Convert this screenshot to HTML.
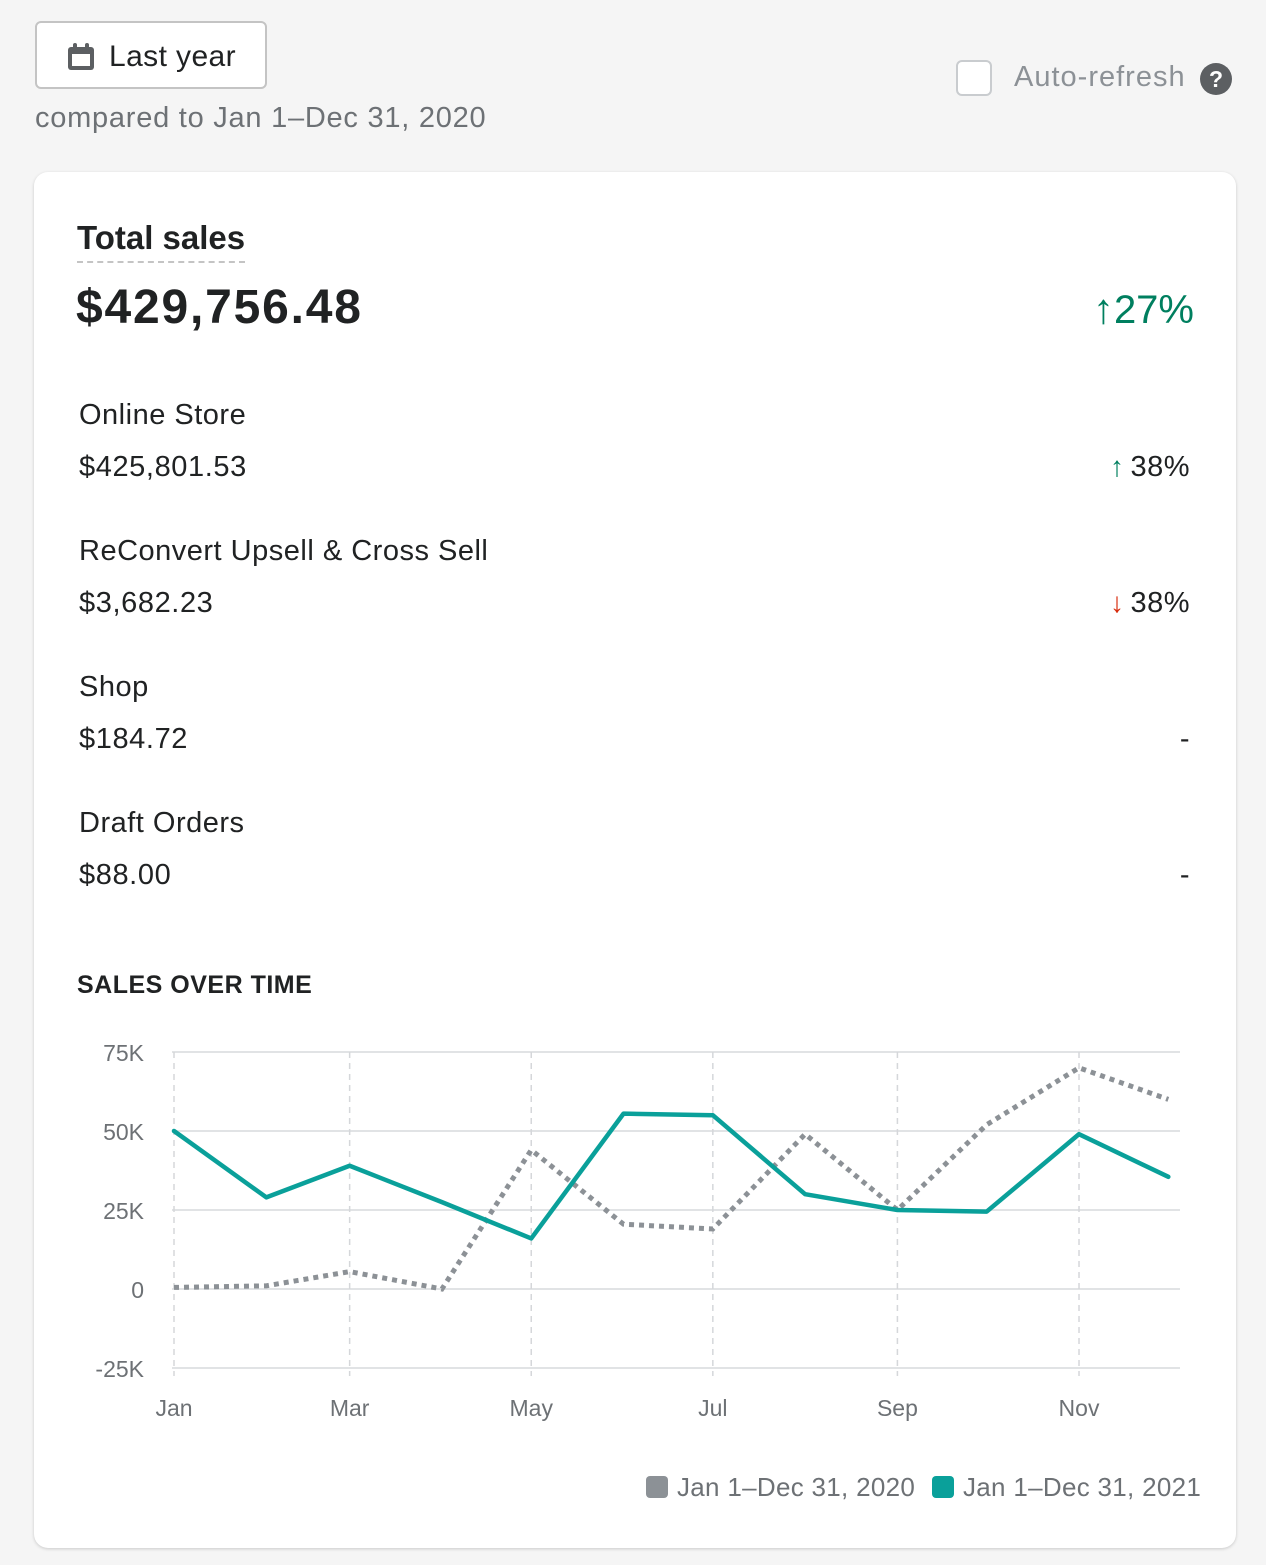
<!DOCTYPE html>
<html><head><meta charset="utf-8"><style>
body{margin:0;width:1266px;height:1565px;background:#f5f5f5;font-family:"Liberation Sans",sans-serif;position:relative;overflow:hidden;color:#202223}
.abs{position:absolute}
.btn{left:35px;top:21px;width:232px;height:68px;border:2px solid #c4c4c4;border-radius:6px;background:#fff;box-sizing:border-box}
.card{left:34px;top:172px;width:1202px;height:1376px;background:#fff;border-radius:14px;box-shadow:0 1px 3px rgba(0,0,0,.18)}
.lbl{font-size:29px;color:#202223;letter-spacing:0.5px}
.val{font-size:29px;color:#202223;letter-spacing:0.6px}
.pct{font-size:29px;right:76px;letter-spacing:0.5px}
.arr{font-size:28px;margin-right:6px}
</style></head><body>
<div class="abs btn">
 <svg class="abs" style="left:30px;top:19px" width="28" height="30"><rect x="1" y="5" width="26" height="23" rx="3" fill="#5c5f62"/><rect x="5" y="12" width="18" height="12" fill="#fff"/><rect x="6" y="1" width="4" height="7" rx="2" fill="#5c5f62"/><rect x="18" y="1" width="4" height="7" rx="2" fill="#5c5f62"/></svg>
 <div class="abs" style="left:72px;top:17px;font-size:30px;letter-spacing:0.4px">Last year</div>
</div>
<div class="abs" style="left:35px;top:102px;font-size:29px;color:#6d7175;letter-spacing:0.75px">compared to Jan 1–Dec 31, 2020</div>
<div class="abs" style="left:956px;top:60px;width:36px;height:36px;border:2px solid #c9cccf;border-radius:6px;box-sizing:border-box;background:#fff"></div>
<div class="abs" style="left:1014px;top:61px;font-size:29px;color:#8c9196;letter-spacing:1px">Auto-refresh</div>
<div class="abs" style="left:1200px;top:63px;width:32px;height:32px;border-radius:50%;background:#5c5f62;color:#fff;font-size:23px;font-weight:bold;text-align:center;line-height:32px">?</div>

<div class="abs card"></div>
<div class="abs" style="left:77px;top:219px;font-size:33px;font-weight:bold;border-bottom:2px dashed #c4c4c4;padding-bottom:4px">Total sales</div>
<div class="abs" style="left:76px;top:280px;font-size:48px;font-weight:bold;letter-spacing:1.8px">$429,756.48</div>
<div class="abs" style="right:72px;top:285px;font-size:40px;color:#007f5f"><span style="font-weight:bold;font-size:42px">↑</span>27%</div>

<div class="abs lbl" style="left:79px;top:399px">Online Store</div>
<div class="abs val" style="left:79px;top:451px">$425,801.53</div>
<div class="abs pct" style="top:451px"><span class="arr" style="color:#007f5f">↑</span>38%</div>
<div class="abs lbl" style="left:79px;top:535px">ReConvert Upsell &amp; Cross Sell</div>
<div class="abs val" style="left:79px;top:587px">$3,682.23</div>
<div class="abs pct" style="top:587px"><span class="arr" style="color:#d72c0d">↓</span>38%</div>
<div class="abs lbl" style="left:79px;top:671px">Shop</div>
<div class="abs val" style="left:79px;top:723px">$184.72</div>
<div class="abs pct" style="top:723px">-</div>
<div class="abs lbl" style="left:79px;top:807px">Draft Orders</div>
<div class="abs val" style="left:79px;top:859px">$88.00</div>
<div class="abs pct" style="top:859px">-</div>

<div class="abs" style="left:77px;top:971px;font-size:25px;font-weight:bold;letter-spacing:.5px">SALES OVER TIME</div>

<svg class="abs" style="left:0;top:0" width="1266" height="1565" id="chart"></svg>

<div class="abs" style="left:646px;top:1476px;width:22px;height:22px;border-radius:4px;background:#8c9196"></div>
<div class="abs" style="left:677px;top:1472px;font-size:26px;color:#6d7175;letter-spacing:0.3px">Jan 1–Dec 31, 2020</div>
<div class="abs" style="left:932px;top:1476px;width:22px;height:22px;border-radius:4px;background:#0aa09a"></div>
<div class="abs" style="left:963px;top:1472px;font-size:26px;color:#6d7175;letter-spacing:0.3px">Jan 1–Dec 31, 2021</div>

<script>
const months=["Jan","Feb","Mar","Apr","May","Jun","Jul","Aug","Sep","Oct","Nov","Dec"];
const monthStartDay=[0,31,59,90,120,151,181,212,243,273,304,334];
const sales2020=[0.5,1,5.5,0,44,20.5,19,49,25,52,70,60];
const sales2021=[50,29,39,27.5,16,55.5,55,30,25,24.5,49,35.5];
const yTicks=[75,50,25,0,-25];
const yTickLabels=["75K","50K","25K","0","-25K"];
const svg=document.getElementById('chart');const NS="http://www.w3.org/2000/svg";
const x=i=>174+monthStartDay[i]*2.977;
const y=v=>1289-v*(1289-1131)/50;
function mk(t,a){const e=document.createElementNS(NS,t);for(const k in a)e.setAttribute(k,a[k]);svg.appendChild(e);return e;}
yTicks.forEach((t,i)=>{
 const l=mk('line',{x1:172,x2:1180,y1:y(t),y2:y(t),stroke:'#e1e3e5','stroke-width':2});
 
 
 const tx=mk('text',{x:144,y:y(t)+9,'text-anchor':'end','font-size':23,fill:'#6d7175','font-family':'Liberation Sans, sans-serif'});
 tx.textContent=yTickLabels[i];
 
 
});
months.forEach((m,i)=>{
 if(i%2)return;
 const l=mk('line',{x1:x(i),x2:x(i),y1:y(75),y2:y(-25)+8,stroke:'#d5d7da','stroke-width':1.5,'stroke-dasharray':'6 5'});
 
 
 const tx=mk('text',{x:x(i),y:1416,'text-anchor':'middle','font-size':23,fill:'#6d7175','font-family':'Liberation Sans, sans-serif'});
 tx.textContent=m;
 
 
});
const p0=mk('polyline',{points:sales2020.map((v,i)=>x(i)+','+y(v)).join(' '),fill:'none',stroke:'#8c9196','stroke-width':5,'stroke-dasharray':'5 5'});


const p1=mk('polyline',{points:sales2021.map((v,i)=>x(i)+','+y(v)).join(' '),fill:'none',stroke:'#0aa09a','stroke-width':4.5,'stroke-linejoin':'round','stroke-linecap':'round'});


</script>
</body></html>
